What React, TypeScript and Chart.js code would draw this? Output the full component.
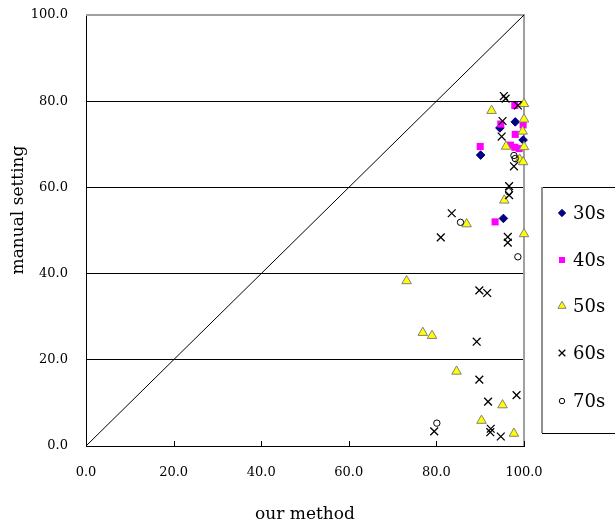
import React, { useEffect, useRef } from "react";
import { Chart, registerables } from "chart.js";

Chart.register(...registerables);

const xTickValues = [0, 20, 40, 60, 80, 100];
const xTitle = "our method";
const yTitle = "manual setting";
const seriesNames = ["30s", "40s", "50s", "60s", "70s"];

const s30x = [90.1, 94.5, 98.0, 99.8, 95.3];
const s30y = [67.5, 73.8, 75.2, 71.0, 52.8];

const s40x = [90.0, 93.4, 94.7, 97.9, 99.8, 98.0, 96.9, 97.9, 98.9];
const s40y = [69.5, 52.0, 74.7, 79.0, 74.5, 72.3, 69.8, 69.3, 69.0];

const s50x = [92.6, 100, 100, 99.7, 95.9, 100, 99.0, 99.8, 95.5, 86.9, 100, 73.2, 76.9, 79.0, 84.6, 95.1, 90.3, 97.7];
const s50y = [77.8, 79.4, 75.8, 73.0, 69.5, 69.4, 66.5, 65.9, 57.0, 51.5, 49.2, 38.3, 26.3, 25.6, 17.3, 9.5, 5.9, 2.9];

const s60x = [95.4, 95.8, 98.6, 95.1, 94.9, 97.7, 96.6, 96.6, 83.5, 81.0, 96.3, 96.3, 89.8, 91.6, 89.2, 89.8, 98.3, 91.8, 79.5, 92.4, 92.3, 94.7];
const s60y = [81.2, 80.6, 79.0, 75.4, 71.8, 64.9, 60.3, 58.2, 54.0, 48.4, 48.5, 47.2, 36.1, 35.5, 24.2, 15.4, 11.8, 10.3, 3.4, 4.0, 3.2, 2.2];

const s70x = [97.7, 98.0, 96.5, 85.5, 98.6, 80.1];
const s70y = [67.4, 66.7, 59.0, 51.9, 43.9, 5.3];

const diagX = [0, 100];
const diagY = [0, 100];

const zip = (xs: number[], ys: number[]) => xs.map((x, i) => ({ x, y: ys[i] }));

const FONT = "'DejaVu Serif', 'Liberation Serif', serif";

const styles = [
  { pointStyle: "rectRot", radius: 4.3, bg: "#000080", border: "#000080", bw: 1 },
  { pointStyle: "rect", radius: 5, bg: "#FF00FF", border: "#FF00FF", bw: 0 },
  { pointStyle: "triangle", radius: 5.5, bg: "#FFFF00", border: "#808080", bw: 1 },
  { pointStyle: "crossRot", radius: 5.5, bg: "#000000", border: "#000000", bw: 1.3 },
  { pointStyle: "circle", radius: 3.2, bg: "rgba(0,0,0,0)", border: "#000000", bw: 1 },
];

const LEGEND_ROWS = [213, 260, 306, 353, 401];

function drawLegendSymbol(ctx: CanvasRenderingContext2D, idx: number, x: number, y: number) {
  const st = styles[idx];
  ctx.save();
  ctx.fillStyle = st.bg;
  ctx.strokeStyle = st.border;
  ctx.lineWidth = st.bw;
  const r = st.radius * 0.85;
  ctx.beginPath();
  if (st.pointStyle === "rectRot") {
    ctx.moveTo(x, y - r); ctx.lineTo(x + r, y); ctx.lineTo(x, y + r); ctx.lineTo(x - r, y); ctx.closePath();
    ctx.fill(); ctx.stroke();
  } else if (st.pointStyle === "rect") {
    const s = r * Math.SQRT1_2;
    ctx.rect(x - s, y - s, 2 * s, 2 * s); ctx.fill();
  } else if (st.pointStyle === "triangle") {
    ctx.moveTo(x, y - r);
    ctx.lineTo(x + r * Math.sin((2 * Math.PI) / 3), y - r * Math.cos((2 * Math.PI) / 3));
    ctx.lineTo(x + r * Math.sin((4 * Math.PI) / 3), y - r * Math.cos((4 * Math.PI) / 3));
    ctx.closePath(); ctx.fill(); ctx.stroke();
  } else if (st.pointStyle === "crossRot") {
    const d = r * Math.SQRT1_2;
    ctx.moveTo(x - d, y - d); ctx.lineTo(x + d, y + d);
    ctx.moveTo(x + d, y - d); ctx.lineTo(x - d, y + d); ctx.stroke();
  } else {
    ctx.arc(x, y, r, 0, Math.PI * 2); ctx.stroke();
  }
  ctx.restore();
}

const extrasPlugin = {
  id: "extras",
  beforeDatasetsDraw(chart: any) {
    const { ctx, chartArea, scales } = chart;
    ctx.save();
    ctx.strokeStyle = "#a0a0a0";
    ctx.lineWidth = 2;
    ctx.beginPath();
    ctx.moveTo(chartArea.left, chartArea.top);
    ctx.lineTo(chartArea.right, chartArea.top);
    ctx.lineTo(chartArea.right, chartArea.bottom);
    ctx.stroke();
    ctx.strokeStyle = "#000";
    ctx.lineWidth = 1;
    xTickValues.forEach((v) => {
      const px = Math.round(scales.x.getPixelForValue(v)) + 0.5;
      ctx.beginPath();
      ctx.moveTo(px, chartArea.bottom);
      ctx.lineTo(px, chartArea.bottom - 5);
      ctx.stroke();
    });
    ctx.restore();
  },
  afterDraw(chart: any) {
    const { ctx, chartArea } = chart;
    ctx.save();
    ctx.fillStyle = "#000";
    ctx.font = `17px ${FONT}`;
    ctx.textAlign = "center";
    ctx.textBaseline = "middle";
    ctx.fillText(xTitle, (chartArea.left + chartArea.right) / 2, 515);
    ctx.translate(19, 210);
    ctx.rotate(-Math.PI / 2);
    ctx.fillText(yTitle, 0, 0);
    ctx.restore();

    ctx.save();
    const bx = 542, by = 187, bw = 80, bh = 246;
    ctx.strokeStyle = "#000";
    ctx.lineWidth = 1;
    ctx.beginPath();
    ctx.moveTo(bx, by + 0.5);
    ctx.lineTo(bx + bw, by + 0.5);
    ctx.moveTo(bx, by + bh + 0.5);
    ctx.lineTo(bx + bw, by + bh + 0.5);
    ctx.stroke();
    ctx.strokeStyle = "#909090";
    ctx.lineWidth = 2;
    ctx.beginPath();
    ctx.moveTo(bx, by);
    ctx.lineTo(bx, by + bh);
    ctx.stroke();
    seriesNames.forEach((name, i) => {
      const y = LEGEND_ROWS[i];
      drawLegendSymbol(ctx, i, 562, y);
      ctx.fillStyle = "#000";
      ctx.font = `18px ${FONT}`;
      ctx.textAlign = "left";
      ctx.textBaseline = "middle";
      ctx.fillText(name, 573, y + 1);
    });
    ctx.restore();
  },
};

export default function App() {
  const ref = useRef<HTMLCanvasElement | null>(null);
  useEffect(() => {
    if (!ref.current) return;
    const seriesData = [zip(s30x, s30y), zip(s40x, s40y), zip(s50x, s50y), zip(s60x, s60y), zip(s70x, s70y)];
    const datasets: any[] = seriesNames.map((name, i) => ({
      type: "scatter",
      label: name,
      data: seriesData[i],
      pointStyle: styles[i].pointStyle,
      pointRadius: styles[i].radius,
      backgroundColor: styles[i].bg,
      borderColor: styles[i].border,
      pointBorderWidth: styles[i].bw,
      borderWidth: styles[i].bw,
      clip: false,
      order: 5 - i,
    }));
    datasets.push({
      type: "line",
      label: "diag",
      data: zip(diagX, diagY),
      borderColor: "#000",
      borderWidth: 1,
      pointRadius: 0,
      fill: false,
      order: 20,
    });
    const chart = new Chart(ref.current, {
      type: "scatter",
      data: { datasets },
      options: {
        responsive: false,
        animation: false,
        layout: { padding: { left: 0, right: 91, top: 15, bottom: 0 } },
        plugins: { legend: { display: false }, tooltip: { enabled: false } },
        scales: {
          x: {
            type: "linear",
            min: 0,
            max: 100,
            afterFit: (s: any) => { s.height = 83; s.paddingLeft = 0; s.paddingRight = 0; },
            afterBuildTicks: (s: any) => { s.ticks = xTickValues.map((v) => ({ value: v })); },
            grid: { display: false, drawTicks: false },
            border: { display: true, color: "#000", width: 1 },
            ticks: {
              color: "#000",
              padding: 19,
              maxRotation: 0,
              font: { family: FONT, size: 13 },
              callback: (v: any) => Number(v).toFixed(1),
            },
          },
          y: {
            type: "linear",
            min: 0,
            max: 100,
            afterFit: (s: any) => { s.width = 86; s.paddingTop = 0; s.paddingBottom = 0; },
            grid: {
              drawTicks: false,
              color: (c: any) => (c.tick && c.tick.value === 100 ? "rgba(0,0,0,0)" : "#000"),
              lineWidth: 1,
            },
            border: { display: true, color: "#000", width: 1 },
            ticks: {
              stepSize: 20,
              color: "#000",
              padding: 18,
              font: { family: FONT, size: 13 },
              callback: (v: any) => Number(v).toFixed(1),
            },
          },
        },
      } as any,
      plugins: [extrasPlugin] as any,
    });
    return () => chart.destroy();
  }, []);
  return (
    <div style={{ position: "absolute", left: 0, top: 0, width: 615, height: 529, background: "#fff" }}>
      <canvas ref={ref} width={615} height={529} style={{ display: "block" }} />
    </div>
  );
}
